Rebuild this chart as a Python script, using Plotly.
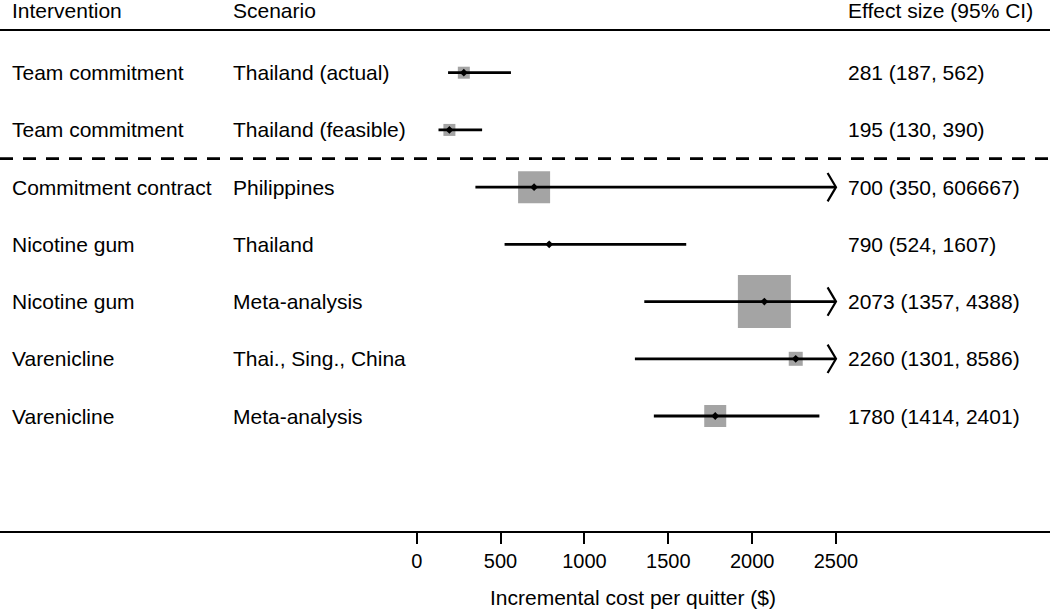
import plotly.graph_objects as go

# ---- data ----
interventions = ["Team commitment", "Team commitment", "Commitment contract",
                 "Nicotine gum", "Nicotine gum", "Varenicline", "Varenicline"]
scenarios = ["Thailand (actual)", "Thailand (feasible)", "Philippines",
             "Thailand", "Meta-analysis", "Thai., Sing., China", "Meta-analysis"]
effect = [281, 195, 700, 790, 2073, 2260, 1780]
lower = [187, 130, 350, 524, 1357, 1301, 1414]
upper = [562, 390, 606667, 1607, 4388, 8586, 2401]
box_weight = [12, 12, 32, 4, 53, 14, 22]   # relative box size (study weight)
tick_vals = [0, 500, 1000, 1500, 2000, 2500]

# ---- layout constants ----
W, H = 1050, 609
FONT = "Liberation Sans, Arial, Helvetica, sans-serif"
FS = 21
clip = 2500
n = len(effect)
ys = [n - i for i in range(n)]
x_range = [-2484.5, 3776]
y_range = [-1.0094, 8.2705]
px_per_x = W / (x_range[1] - x_range[0])
px_per_y = (H - 78) / (y_range[1] - y_range[0])
grey = "#a4a4a4"

fig = go.Figure()

# boxes
fig.add_trace(go.Scatter(
    x=effect, y=ys, mode="markers",
    marker=dict(symbol="square", size=box_weight, color=grey, opacity=1,
                line=dict(width=0)),
    hoverinfo="skip"))

# CI lines (clipped at axis end)
lx, ly = [], []
for lo, up, y in zip(lower, upper, ys):
    lx += [lo, min(up, clip), None]
    ly += [y, y, None]
fig.add_trace(go.Scatter(x=lx, y=ly, mode="lines",
                         line=dict(color="black", width=2.8), hoverinfo="skip"))

# chevrons for clipped upper limits
dx = 8.4 / px_per_x
dy = 14.2 / px_per_y
cx, cy = [], []
for up, y in zip(upper, ys):
    if up > clip:
        cx += [clip - dx, clip, clip - dx, None]
        cy += [y + dy, y, y - dy, None]
fig.add_trace(go.Scatter(x=cx, y=cy, mode="lines",
                         line=dict(color="black", width=2.2), hoverinfo="skip"))

# point estimates
fig.add_trace(go.Scatter(
    x=effect, y=ys, mode="markers",
    marker=dict(symbol="diamond", size=6, color="black", opacity=1, line=dict(width=0)),
    hoverinfo="skip"))

# text columns
col_x = [10, 231, 846]
headers = ["Intervention", "Scenario", "Effect size (95% CI)"]
annotations = []
for cxp, htxt in zip(col_x, headers):
    annotations.append(dict(x=cxp / W, xref="paper", y=1 - 11 / (H - 78), yref="paper",
                            text=htxt, showarrow=False, xanchor="left", yanchor="middle",
                            font=dict(family=FONT, size=FS, color="black")))
for i, y in enumerate(ys):
    cols = [interventions[i], scenarios[i], f"{effect[i]} ({lower[i]}, {upper[i]})"]
    for cxp, t in zip(col_x, cols):
        annotations.append(dict(x=cxp / W, xref="paper", y=y, yref="y", text=t,
                                showarrow=False, xanchor="left", yanchor="middle",
                                font=dict(family=FONT, size=FS, color="black")))
annotations.append(dict(x=633 / W, xref="paper", y=(531 - 597) / 531, yref="paper",
                        text="Incremental cost per quitter ($)", showarrow=False,
                        xanchor="center", yanchor="middle",
                        font=dict(family=FONT, size=FS, color="black")))

top_line_y = n + (72.7 - 30) / px_per_y
shapes = [
    dict(type="line", xref="paper", x0=0, x1=1, yref="y", y0=top_line_y, y1=top_line_y,
         line=dict(color="black", width=2)),
    dict(type="line", xref="paper", x0=0, x1=1, yref="y", y0=(ys[1] + ys[2]) / 2,
         y1=(ys[1] + ys[2]) / 2, line=dict(color="black", width=2.8, dash="13px,10px")),
]

fig.update_layout(
    width=W, height=H,
    margin=dict(l=0, r=0, t=0, b=78, autoexpand=False),
    paper_bgcolor="white", plot_bgcolor="white",
    showlegend=False,
    annotations=annotations, shapes=shapes,
    xaxis=dict(range=x_range, tickvals=tick_vals, ticktext=[str(v) for v in tick_vals],
               showgrid=False, zeroline=False, showline=True, linecolor="black",
               linewidth=2, ticks="outside", ticklen=11, tickwidth=1.5, tickcolor="black",
               tickfont=dict(family=FONT, size=20, color="black"), automargin=False,
               fixedrange=True),
    yaxis=dict(range=y_range, visible=False, fixedrange=True),
)

fig.write_html("out.html", config={"displayModeBar": False},
               post_script="document.body.style.margin='0';")
